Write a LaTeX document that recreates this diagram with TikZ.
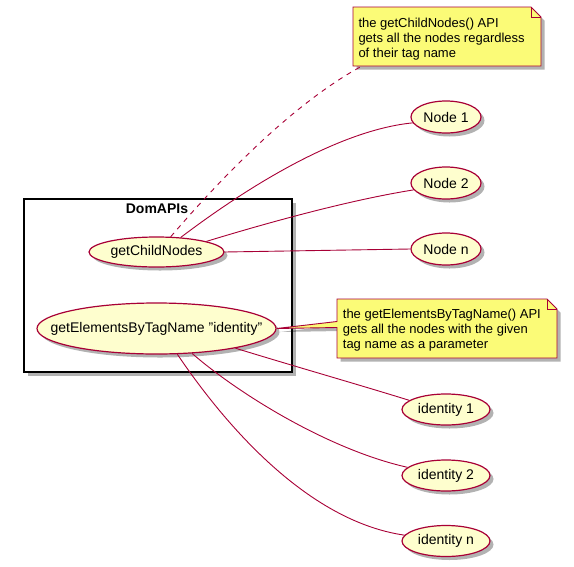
\documentclass[tikz,border=0pt]{standalone}
\usepackage{fontspec}
\setmainfont{Liberation Sans}
\usetikzlibrary{shapes.geometric,shadows}
\definecolor{ucfill}{HTML}{FEFECE}
\definecolor{ucline}{HTML}{A80036}
\definecolor{notefill}{HTML}{FBFB77}
\begin{document}
\begin{tikzpicture}[x=1pt,y=-1pt,
  shadowed/.style={drop shadow={shadow xshift=3.5pt,shadow yshift=-3.5pt,fill=black,opacity=0.3}},
  uc/.style n args={3}{ellipse,draw=ucline,line width=1.2pt,fill=ucfill,
    minimum width=#1pt,minimum height=#2pt,inner sep=0pt,shadowed,
    label={[uctext]center:#3}},
  uctext/.style={font=\fontsize{14}{16}\selectfont,inner sep=0pt,text=black},
  notebox/.style={draw=ucline,line width=0.9pt,fill=notefill,shadowed},
  notetext/.style={font=\fontsize{13}{15.3}\selectfont,align=left,anchor=north west,inner sep=0pt},
  link/.style={draw=ucline,line width=0.9pt},
]
\useasboundingbox (0,0) rectangle (574,566);
% package box
\node[draw=black,line width=2pt,fill=white,shadowed,minimum width=268pt,minimum height=173pt,
  anchor=north west,inner sep=0pt] (dom) at (23,198) {};
\node[font=\bfseries\fontsize{14}{16}\selectfont,inner sep=0pt] (domtitle) at (157,209) {DomAPIs};
% use cases
\node[uc={135}{30}{getChildNodes}] (gcn) at (156.5,252) {};
\node[uc={239}{51}{getElementsByTagName "identity"}] (ge) at (156.5,328.5) {};
\node[uc={70}{32}{Node 1}] (n1) at (446,117) {};
\node[uc={70}{32}{Node 2}] (n2) at (446,183) {};
\node[uc={70}{32}{Node n}] (nn) at (446,249) {};
\node[uc={88}{31}{identity 1}] (i1) at (446,409.5) {};
\node[uc={88}{31}{identity 2}] (i2) at (446,475.5) {};
\node[uc={88}{31}{identity n}] (in) at (446,541) {};
% notes
\path[notebox] (353,7) -- (531,7) -- (541,17) -- (541,66) -- (353,66) -- cycle;
\draw[ucline,line width=0.9pt] (531,7) -- (531,17) -- (541,17);
\node[notetext] (note1) at (358.3,17.5) {the getChildNodes() API\\gets all the nodes regardless\\of their tag name};
\coordinate (t1) at (362,66);
\path[notebox] (337,299) -- (547,299) -- (557,309) -- (557,358) -- (337,358) -- (337,327.5) -- (ge.east) -- (337,321.5) -- cycle;
\draw[ucline,line width=0.9pt] (547,299) -- (547,309) -- (557,309);
\node[notetext] (note2) at (342.7,308.5) {the getElementsByTagName() API\\gets all the nodes with the given\\tag name as a parameter};
% links
\draw[link,dashed,dash pattern=on 5pt off 5pt] (gcn.47) .. controls (215,185) and (290,105) .. (t1);
\draw[link] (gcn.31) .. controls (250,185) and (340,130) .. (n1.190);
\draw[link] (gcn.12) .. controls (270,222) and (350,200) .. (n2.192);
\draw[link] (gcn.east) -- (nn.west);
\draw[link] (ge.-14.4) .. controls (290,365) and (360,385) .. (i1.166);
\draw[link] (ge.-35) .. controls (240,395) and (330,450) .. (i2.168);
\draw[link] (ge.-51) .. controls (215,410) and (300,520) .. (in.172);
\end{tikzpicture}
\end{document}
